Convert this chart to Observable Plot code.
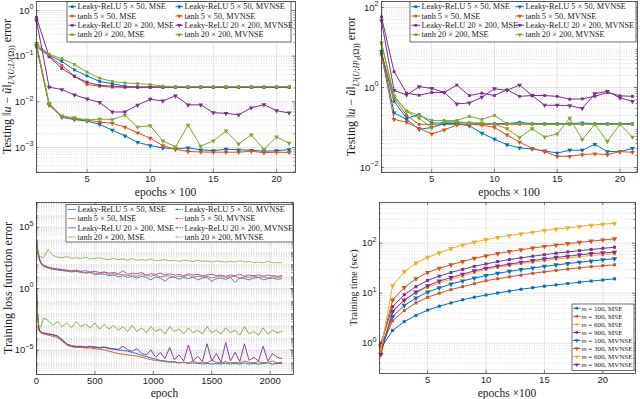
<!DOCTYPE html>
<html><head><meta charset="utf-8">
<script src="https://cdn.jsdelivr.net/npm/d3@7"></script>
<script src="https://cdn.jsdelivr.net/npm/@observablehq/plot@0.6"></script>
<style>
body{margin:0;background:#fff;}
#fig{position:relative;width:640px;height:399px;overflow:hidden;background:#fff;}
</style></head><body><div id="fig"></div><script>
const C = {blue:"#0072BD", orange:"#D95319", yellow:"#EDB120", purple:"#7E2F8E", green:"#77AC30"};

// ---------- data ----------
const epochsX100 = [1,2,3,4,5,6,7,8,9,10,11,12,13,14,15,16,17,18,19,20,21];
const nets = ["Leaky-ReLU 5 × 50", "tanh 5 × 50", "Leaky-ReLU 20 × 200", "tanh 20 × 200"];
const netColors = [C.blue, C.orange, C.purple, C.green];

// top-left: testing L2(U;L2) error
const tlMSE = [
  [0.17,0.105,0.077,0.05,0.037,0.028,0.025,0.022,0.021,0.021,0.021,0.021,0.021,0.021,0.021,0.021,0.021,0.021,0.021,0.021,0.021],
  [0.16,0.1,0.063,0.037,0.024,0.022,0.021,0.021,0.021,0.021,0.021,0.021,0.021,0.021,0.021,0.021,0.021,0.021,0.021,0.021,0.021],
  [0.7,0.097,0.054,0.036,0.027,0.023,0.022,0.021,0.021,0.021,0.021,0.021,0.021,0.021,0.021,0.021,0.021,0.021,0.021,0.021,0.021],
  [0.19,0.11,0.088,0.066,0.045,0.033,0.028,0.026,0.025,0.024,0.022,0.0215,0.0215,0.0215,0.0215,0.0215,0.0215,0.0215,0.0215,0.0215,0.0215]
];
const tlMVNSE = [
  [0.17,0.0089,0.0046,0.0041,0.0038,0.0032,0.0024,0.0018,0.0013,0.0011,0.00098,0.00094,0.00098,0.00089,0.00085,0.00092,0.00089,0.00087,0.00083,0.00085,0.0009],
  [0.16,0.0085,0.0048,0.0042,0.004,0.0036,0.0034,0.0028,0.0021,0.0016,0.0011,0.00091,0.00082,0.0008,0.00079,0.00079,0.00079,0.00083,0.00077,0.00079,0.00078],
  [0.6,0.021,0.0186,0.0142,0.0116,0.0097,0.006,0.006,0.0085,0.0114,0.0105,0.0135,0.0086,0.0086,0.0058,0.0056,0.0052,0.0074,0.0087,0.0064,0.0057],
  [0.19,0.0092,0.0049,0.0045,0.004,0.0042,0.0041,0.0051,0.0028,0.003,0.0014,0.00103,0.0031,0.00107,0.0014,0.0023,0.0012,0.0019,0.00091,0.0017,0.00125]
];
// top-right: testing L2(U;H1_0) error
const trMSE = [
  [7.5,0.45,0.17,0.21,0.13,0.13,0.13,0.13,0.125,0.125,0.125,0.135,0.125,0.125,0.125,0.125,0.13,0.125,0.125,0.125,0.125],
  [7,0.55,0.2,0.12,0.12,0.12,0.12,0.12,0.12,0.12,0.12,0.12,0.12,0.12,0.12,0.12,0.12,0.12,0.12,0.12,0.12],
  [58,2.5,0.72,0.64,0.75,0.75,1.15,0.63,0.72,0.63,0.88,0.6,0.63,0.63,0.6,0.51,0.52,0.6,0.75,0.62,0.6],
  [12.5,0.6,0.26,0.2,0.15,0.15,0.15,0.19,0.16,0.2,0.125,0.125,0.12,0.12,0.12,0.12,0.12,0.12,0.12,0.12,0.12]
];
const trMVNSE = [
  [8,0.23,0.16,0.09,0.1,0.125,0.125,0.11,0.072,0.051,0.037,0.031,0.029,0.026,0.023,0.027,0.027,0.038,0.025,0.025,0.03],
  [6.5,0.16,0.135,0.095,0.069,0.087,0.115,0.12,0.115,0.1,0.065,0.043,0.03,0.025,0.019,0.019,0.021,0.022,0.021,0.025,0.024],
  [46,0.85,0.65,1.05,0.95,0.75,0.39,0.41,0.57,0.93,0.85,1.15,0.63,0.36,0.36,0.35,0.3,0.7,0.8,0.55,0.45],
  [13,0.62,0.25,0.17,0.098,0.14,0.14,0.13,0.13,0.12,0.093,0.056,0.093,0.058,0.069,0.17,0.05,0.12,0.045,0.12,0.057]
];
// bottom-left: training loss (log10 of value), sampled epochs
const lossEpochs = [0,10,20,30,40,60,100,140,180,220,260,300,340,380,420,460,500,540,580,620,660,700,740,780,820,860,900,940,980,1020,1060,1100,1140,1180,1220,1260,1300,1340,1380,1420,1460,1500,1540,1580,1620,1660,1700,1740,1780,1820,1860,1900,1940,1980,2020,2060,2100];
const lossMSElog = [
  [3.6,3.0,2.5,2.2,2.0,1.8,1.65,1.55,1.5,1.45,1.4,1.35,1.4,1.3,1.25,1.3,1.1,1.2,1.15,1.05,1.1,0.95,1.05,0.9,1.0,0.85,1.0,0.9,0.7,0.95,0.85,0.6,0.9,0.95,0.75,0.9,0.8,0.95,0.7,0.85,0.9,0.6,0.8,0.85,0.75,0.9,0.5,0.85,0.8,0.7,0.85,0.9,0.7,0.8,0.85,0.75,0.8],
  [3.9,3.1,2.6,2.25,2.05,1.85,1.7,1.6,1.55,1.5,1.45,1.4,1.4,1.35,1.3,1.3,1.25,1.2,1.3,1.15,1.2,1.1,1.15,1.05,1.1,1.0,1.15,1.05,1.0,1.1,0.95,1.0,1.05,0.9,1.0,0.95,1.1,0.9,1.0,0.95,1.0,0.85,0.95,1.0,0.9,0.95,1.0,0.85,0.95,0.9,1.0,0.9,0.95,0.85,0.95,0.9,0.95],
  [4.0,3.2,2.7,2.3,2.1,1.9,1.75,1.65,1.6,1.55,1.5,1.45,1.5,1.4,1.45,1.35,1.4,1.3,1.35,1.25,1.3,1.2,1.45,1.15,1.25,1.2,1.3,1.1,1.2,1.15,1.25,1.1,1.2,1.1,1.15,1.05,1.2,1.1,1.15,1.05,1.1,1.15,1.05,1.1,1.0,1.1,1.05,1.15,1.0,1.1,1.05,1.1,1.0,1.1,1.05,1.0,1.05],
  [4.1,3.2,2.7,2.6,2.55,2.5,3.2,2.7,2.55,2.5,2.6,2.45,2.5,2.45,2.55,2.4,2.45,2.5,2.4,2.35,2.45,2.35,2.4,2.3,2.45,2.3,2.35,2.3,2.4,2.25,2.3,2.35,2.25,2.3,2.2,2.3,2.25,2.2,2.3,2.2,2.25,2.15,2.25,2.2,2.15,2.2,2.15,2.25,2.15,2.2,2.1,2.15,2.1,2.2,2.1,2.1,2.1]
];
const lossMVNSElog = [
  [-0.3,-2.2,-3.3,-3.5,-3.6,-3.65,-3.7,-3.8,-3.9,-4.2,-4.55,-4.7,-4.75,-4.75,-4.8,-4.75,-4.8,-4.85,-4.8,-4.9,-4.95,-5.0,-5.05,-5.1,-5.2,-5.3,-5.45,-5.55,-5.65,-5.75,-5.85,-5.9,-5.95,-6.0,-6.05,-6.0,-6.1,-6.05,-6.1,-6.15,-6.1,-6.15,-6.1,-6.15,-6.05,-6.15,-6.1,-6.15,-6.05,-6.15,-6.1,-6.15,-6.1,-6.05,-6.15,-6.1,-6.1],
  [-0.3,-2.3,-3.4,-3.55,-3.65,-3.7,-3.8,-3.9,-4.0,-4.3,-4.6,-4.75,-4.8,-4.8,-4.85,-4.85,-4.9,-4.95,-5.0,-5.1,-5.2,-5.3,-5.35,-5.4,-5.45,-5.5,-5.6,-5.7,-5.8,-5.85,-5.9,-5.95,-6.0,-5.95,-6.05,-6.0,-6.05,-5.9,-6.05,-6.0,-6.05,-5.85,-6.0,-6.05,-5.95,-6.05,-6.0,-6.05,-5.9,-6.0,-6.05,-5.95,-6.05,-6.0,-5.9,-6.05,-6.0],
  [-0.2,-2.1,-3.2,-3.45,-3.55,-3.6,-3.7,-3.75,-3.85,-4.15,-4.5,-4.65,-4.7,-4.7,-4.75,-4.7,-4.75,-4.8,-4.75,-4.85,-4.9,-4.95,-4.7,-5.0,-5.1,-4.9,-5.3,-5.4,-5.0,-5.6,-5.2,-5.7,-4.8,-5.8,-5.4,-5.9,-4.6,-5.9,-5.5,-5.95,-4.5,-5.9,-5.3,-6.0,-4.4,-5.9,-5.2,-5.95,-4.5,-5.85,-5.6,-5.9,-4.7,-5.9,-5.3,-5.6,-5.7],
  [0.0,-2.2,-3.0,-3.1,-3.05,-2.4,-2.6,-3.0,-2.7,-3.1,-2.8,-3.2,-2.7,-3.1,-2.9,-3.2,-2.8,-3.3,-2.9,-3.3,-3.0,-3.4,-3.1,-3.5,-3.0,-3.5,-3.2,-3.6,-3.1,-3.5,-3.3,-3.7,-3.1,-3.5,-3.3,-3.7,-3.2,-3.6,-3.4,-3.7,-3.1,-3.6,-3.4,-3.7,-3.2,-3.6,-3.4,-3.8,-3.1,-3.7,-3.5,-3.8,-3.2,-3.7,-3.4,-3.6,-3.5]
];
// bottom-right: training time (sec)
const mValues = [100, 300, 600, 900];
const mColors = [C.blue, C.orange, C.yellow, C.purple];
const timeMSE = [
  [0.8,1.8,2.7,3.6,4.6,5.5,6.4,7.4,8.3,9.2,10.1,11.0,12.0,12.9,13.8,14.7,15.6,16.6,17.5,18.4,19.4],
  [0.8,2.8,4.5,6.4,8.3,10,11.8,13.5,15.5,17.8,19.5,21.3,23,25,26.8,28.6,30.4,32.2,34,35.5,37],
  [0.7,4.5,7.2,10.2,13,16,19,21.8,26,30,33,36,39,42,45,48,51,54,57,59,61],
  [1.0,5.4,9.3,13.5,18,22,26,30,34.5,38.5,43,47,51,55,59,63,67,71,75,79,83]
];
const timeMVNSE = [
  [0.85,3.4,5.7,8.0,10.5,12.8,15.2,17.6,20,22.5,25,27.3,29.7,32,34.4,36.8,39.2,41.6,44,46.5,49],
  [0.9,7.3,13,19.5,26,31.5,37,43,50,56,62,68,74,80,86,92,98,104,110,116,122],
  [0.75,14,27,40,52,64,78,92,105,118,130,142,154,166,180,192,203,215,228,240,250],
  [0.6,4.3,7.3,10.5,14,17.5,20.5,24,28,31.6,35,38,41.5,45,48.5,52,55,58.5,62,64,66]
];

// ---------- helpers ----------
const fig = document.getElementById("fig");
const rows = (xs, ys) => xs.map((x, i) => ({x, y: ys[i]}));
function minorLog([a, b]) {
  const out = [];
  for (let n = Math.floor(Math.log10(a)); n <= Math.ceil(Math.log10(b)); n++)
    for (let k = 2; k <= 9; k++) { const v = k * Math.pow(10, n); if (v > a && v < b) out.push(v); }
  return out;
}
function makePanel(o) {
  const fw = o.width - o.mL - o.mR, fh = o.height - o.mT - o.mB;
  const ux = (o.xDomain[1] - o.xDomain[0]) / fw;
  const dec = (Math.log10(o.yDomain[1]) - Math.log10(o.yDomain[0])) / fh;
  const x0 = o.xDomain[0], x1 = o.xDomain[1], y0 = o.yDomain[0], y1 = o.yDomain[1];
  const yMinor = minorLog(o.yDomain);
  const tk = 3, tkm = 1.6;
  const p = Plot.plot({
    width: o.width, height: o.height,
    marginLeft: o.mL, marginRight: o.mR, marginTop: o.mT, marginBottom: o.mB,
    style: {fontFamily: "'Liberation Sans', Arial, sans-serif", fontSize: "9.5px", color: "#262626", background: "transparent", overflow: "visible"},
    x: {domain: o.xDomain, ticks: o.xTicks, tickSize: 0, tickPadding: 2.5, label: null, tickFormat: d => String(d)},
    y: {type: "log", domain: o.yDomain, ticks: o.yTicks, tickSize: 0, tickPadding: 3, label: null,
        tickFormat: d => "10^" + String(Math.round(Math.log10(d))).replace("-", "−")},
    marks: [
      Plot.ruleY(yMinor, {stroke: "#c8c8c8", strokeWidth: 0.6, strokeDasharray: "1,1.5"}),
      Plot.ruleY(o.yTicks, {stroke: "#dedede", strokeWidth: 0.8}),
      Plot.ruleX(o.xTicks, {stroke: "#dedede", strokeWidth: 0.8}),
      ...o.marks,
      Plot.ruleY(o.yTicks, {y: d => d, x1: () => x0, x2: () => x0 + tk * ux, stroke: "#333", strokeWidth: 0.6}),
      Plot.ruleY(o.yTicks, {y: d => d, x1: () => x1, x2: () => x1 - tk * ux, stroke: "#333", strokeWidth: 0.6}),
      Plot.ruleY(yMinor, {y: d => d, x1: () => x0, x2: () => x0 + tkm * ux, stroke: "#333", strokeWidth: 0.5}),
      Plot.ruleY(yMinor, {y: d => d, x1: () => x1, x2: () => x1 - tkm * ux, stroke: "#333", strokeWidth: 0.5}),
      Plot.ruleX(o.xTicks, {x: d => d, y1: () => y0, y2: () => y0 * Math.pow(10, tk * dec), stroke: "#333", strokeWidth: 0.6}),
      Plot.ruleX(o.xTicks, {x: d => d, y1: () => y1, y2: () => y1 / Math.pow(10, tk * dec), stroke: "#333", strokeWidth: 0.6}),
      Plot.frame({stroke: "#333", strokeWidth: 0.8})
    ]
  });
  p.style.position = "absolute"; p.style.left = o.left + "px"; p.style.top = o.top + "px";
  d3.select(p).selectAll('g[aria-label="y-axis tick label"] text').each(function() {
    const m = this.textContent.match(/^10\^(.+)$/);
    if (m) {
      this.textContent = "10";
      d3.select(this).append("tspan").attr("dy", "-4.2").attr("font-size", "7.2px").text(m[1]);
    }
  });
  fig.appendChild(p);
}
function seriesMarks(xs, list, sym) {
  const marks = [];
  list.forEach((vals, i) => {
    const d = rows(xs, vals);
    marks.push(Plot.line(d, {x: "x", y: "y", stroke: netColors[i], strokeWidth: 1}));
    if (sym === "square") marks.push(Plot.dot(d, {x: "x", y: "y", fill: netColors[i], symbol: "square", r: 1.6}));
    else marks.push(Plot.dot(d, {x: "x", y: "y", fill: netColors[i], symbol: "triangle", r: 1.8, rotate: 180}));
  });
  return marks;
}

// ---------- panels ----------
makePanel({
  left: 0, top: 0, width: 320, height: 200, mL: 36, mR: 25, mT: 1, mB: 28,
  xDomain: [1, 21.5], xTicks: [5, 10, 15, 20], yDomain: [2.84e-4, 1.574], yTicks: [1e-3, 1e-2, 1e-1, 1],
  marks: [...seriesMarks(epochsX100, tlMSE, "square"), ...seriesMarks(epochsX100, tlMVNSE, "tri")]
});
makePanel({
  left: 320, top: 0, width: 320, height: 200, mL: 61, mR: 3, mT: 1, mB: 28,
  xDomain: [1, 21.4], xTicks: [5, 10, 15, 20], yDomain: [0.0075, 141], yTicks: [1e-2, 1, 100],
  marks: [...seriesMarks(epochsX100, trMSE, "square"), ...seriesMarks(epochsX100, trMVNSE, "tri")]
});
{
  const marks = [];
  lossMSElog.forEach((v, i) => marks.push(Plot.line(rows(lossEpochs, v.map(e => Math.pow(10, e))), {x: "x", y: "y", stroke: netColors[i], strokeWidth: 0.9, strokeOpacity: 0.85})));
  lossMVNSElog.forEach((v, i) => marks.push(Plot.line(rows(lossEpochs, v.map(e => Math.pow(10, e))), {x: "x", y: "y", stroke: netColors[i], strokeWidth: 0.9})));
  makePanel({
    left: 0, top: 200, width: 320, height: 199, mL: 36, mR: 27, mT: 2, mB: 25,
    xDomain: [0, 2200], xTicks: [0, 500, 1000, 1500, 2000], yDomain: [1e-7, 1e7], yTicks: [1e-5, 1, 1e5],
    marks
  });
}
{
  const marks = [];
  timeMSE.forEach((v, i) => {
    const d = rows(epochsX100, v);
    marks.push(Plot.line(d, {x: "x", y: "y", stroke: mColors[i], strokeWidth: 1}));
    marks.push(Plot.dot(d, {x: "x", y: "y", fill: mColors[i], symbol: "square", r: 1.7}));
  });
  timeMVNSE.forEach((v, i) => {
    const d = rows(epochsX100, v);
    marks.push(Plot.line(d, {x: "x", y: "y", stroke: mColors[i], strokeWidth: 1}));
    marks.push(Plot.dot(d, {x: "x", y: "y", fill: mColors[i], symbol: "triangle", r: 2, rotate: 180}));
  });
  makePanel({
    left: 320, top: 200, width: 320, height: 199, mL: 59, mR: 5, mT: 2, mB: 26,
    xDomain: [0.88, 22.8], xTicks: [5, 10, 15, 20], yDomain: [0.248, 652], yTicks: [1, 10, 100],
    marks
  });
}

// ---------- overlay: axis labels & legends ----------
const ov = d3.select(fig).append("svg").attr("width", 640).attr("height", 399)
  .style("position", "absolute").style("left", "0px").style("top", "0px")
  .attr("font-family", "'Liberation Serif', 'Times New Roman', serif").attr("fill", "#1a1a1a");

function rich(x, y, rot, size, parts) {
  const t = ov.append("text").attr("transform", `translate(${x},${y}) rotate(${rot})`)
    .attr("text-anchor", "middle").attr("font-size", size);
  let shift = 0;
  for (const [s, st] of parts) {
    const ts = t.append("tspan").text(s);
    const want = st.includes("s") ? size * 0.3 : 0;
    if (want !== shift) { ts.attr("dy", want - shift); shift = want; }
    if (st.includes("s")) ts.attr("font-size", size * 0.68);
    if (st.includes("i")) ts.attr("font-style", "italic");
  }
}
const xl = (x, y, s) => ov.append("text").attr("x", x).attr("y", y).attr("text-anchor", "middle").attr("font-size", 11.5).text(s);
xl(165.5, 196, "epochs × 100");
xl(509, 196, "epochs × 100");
xl(164.5, 397, "epoch");
xl(507, 397, "epochs ×100");

rich(10.5, 86.5, -90, 12, [["Testing ‖", ""], ["u", "i"], [" − ", ""], ["ũ", "i"], ["‖", ""], ["L", "si"], ["²(", "s"], ["U", "si"], [";", "s"], ["L", "si"], ["²(Ω))", "s"], [" error", ""]]);
rich(355, 86.5, -90, 12, [["Testing ‖", ""], ["u", "i"], [" − ", ""], ["ũ", "i"], ["‖", ""], ["L", "si"], ["²(", "s"], ["U", "si"], [";", "s"], ["H", "si"], ["¹₀(Ω))", "s"], [" error", ""]]);
rich(12, 288, -90, 12, [["Training loss function error", ""]]);
rich(357, 287.5, -90, 10, [["Training time (sec)", ""]]);

function marker(g, cx, cy, color, sym, size) {
  const path = sym === "square" ? d3.symbol(d3.symbolSquare, size)() : d3.symbol(d3.symbolTriangle, size * 1.2)();
  g.append("path").attr("d", path).attr("fill", color)
    .attr("transform", `translate(${cx},${cy})` + (sym === "square" ? "" : " rotate(180)"));
}
function legendBox(x0, y0, x1, y1) {
  ov.append("rect").attr("x", x0).attr("y", y0).attr("width", x1 - x0).attr("height", y1 - y0)
    .attr("fill", "#fff").attr("stroke", "#333").attr("stroke-width", 0.7);
}
function legend4(box, rowsY, cols, fontSize, withMarkers) {
  legendBox(...box);
  const suffix = ["MSE", "MVNSE"];
  cols.forEach((c, ci) => {
    nets.forEach((name, ri) => {
      const y = rowsY[ri];
      const line = ov.append("line").attr("x1", c.s0).attr("x2", c.s1).attr("y1", y).attr("y2", y)
        .attr("stroke", netColors[ri]).attr("stroke-width", 1);
      if (withMarkers) marker(ov, (c.s0 + c.s1) / 2, y, netColors[ri], ci === 0 ? "square" : "tri", 7);
      else if (ci === 1) line.attr("stroke-dasharray", "3,1.2,1,1.2");
      else line.attr("stroke-opacity", 0.7);
      ov.append("text").attr("x", c.t).attr("y", y + fontSize * 0.33).attr("font-size", fontSize)
        .text(`${name}, ${suffix[ci]}`);
    });
  });
}
legend4([67, 1.5, 291, 42], [6.7, 16.0, 25.3, 34.7], [{s0: 68.5, s1: 76, t: 77.5}, {s0: 175.5, s1: 183, t: 184.5}], 8.3, true);
legend4([410, 1.5, 636, 42], [6.7, 16.0, 25.3, 34.7], [{s0: 411.5, s1: 420, t: 421.5}, {s0: 515.5, s1: 524, t: 525.5}], 8.3, true);
legend4([66, 204.5, 293, 242], [209.5, 218.6, 227.8, 237], [{s0: 67.5, s1: 76, t: 77.5}, {s0: 175.5, s1: 183, t: 184.5}], 8.3, false);

legendBox(572, 304, 634, 370.5);
["MSE", "MVNSE"].forEach((lab, k) => {
  mValues.forEach((m, i) => {
    const y = 308.3 + (k * 4 + i) * 8.05;
    ov.append("line").attr("x1", 573).attr("x2", 580.5).attr("y1", y).attr("y2", y).attr("stroke", mColors[i]).attr("stroke-width", 1);
    marker(ov, 576.8, y, mColors[i], k === 0 ? "square" : "tri", 6);
    const t = ov.append("text").attr("x", 581.5).attr("y", y + 2.3).attr("font-size", 7);
    t.append("tspan").attr("font-style", "italic").text("m");
    t.append("tspan").text(` = ${m}, ${lab}`);
  });
});
</script></body></html>
